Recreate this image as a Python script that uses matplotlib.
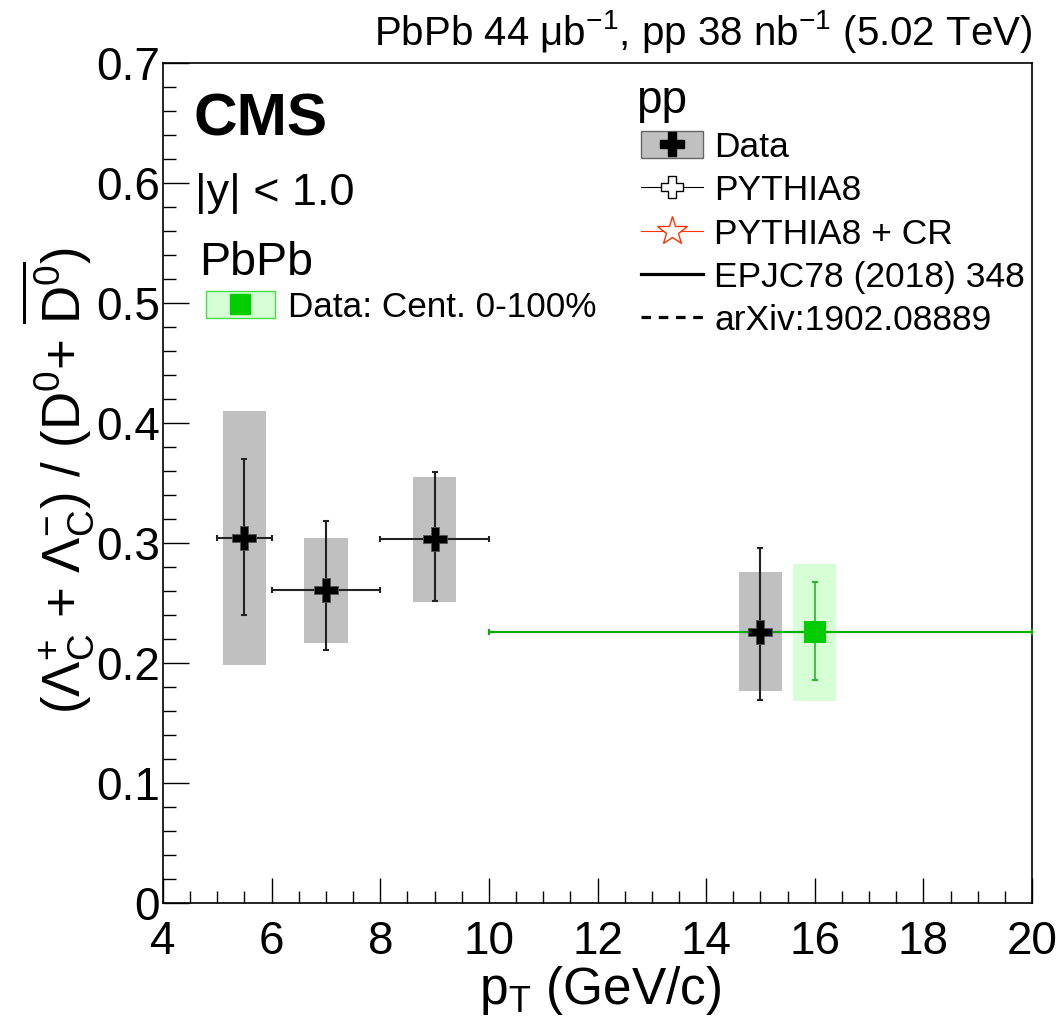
import matplotlib
matplotlib.use("Agg")
import matplotlib.pyplot as plt
from matplotlib.patches import Patch
from matplotlib.lines import Line2D
from matplotlib.ticker import MultipleLocator

plt.rcParams['font.family'] = ['Liberation Sans', 'DejaVu Sans']
plt.rcParams['mathtext.fontset'] = 'custom'
plt.rcParams['mathtext.rm'] = 'Liberation Sans'
plt.rcParams['mathtext.it'] = 'Liberation Sans:italic'
plt.rcParams['mathtext.bf'] = 'Liberation Sans:bold'

# pp data: bin centres, bin edges, ratio, stat and syst uncertainties
pp_x = [5.5, 7.0, 9.0, 15.0]
pp_xlo = [5.0, 6.0, 8.0, 10.0]
pp_xhi = [6.0, 8.0, 10.0, 20.0]
pp_y = [0.304, 0.261, 0.303, 0.226]
pp_stat_lo = [0.064, 0.050, 0.051, 0.057]
pp_stat_hi = [0.066, 0.057, 0.056, 0.070]
pp_sys_lo = [0.106, 0.044, 0.052, 0.049]
pp_sys_hi = [0.106, 0.043, 0.052, 0.050]

# PbPb data (0-100% centrality)
aa_x = [16.0]
aa_xlo = [10.0]
aa_xhi = [20.0]
aa_y = [0.2255]
aa_stat_lo = [0.0395]
aa_stat_hi = [0.042]
aa_sys_lo = [0.0575]
aa_sys_hi = [0.057]

# axis tick labels
x_ticks = [4, 6, 8, 10, 12, 14, 16, 18, 20]
x_ticklabels = ['4', '6', '8', '10', '12', '14', '16', '18', '20']
y_ticks = [0, 0.1, 0.2, 0.3, 0.4, 0.5, 0.6, 0.7]
y_ticklabels = ['0', '0.1', '0.2', '0.3', '0.4', '0.5', '0.6', '0.7']

box_width = 0.8

GREY = '#c0c0c0'
GREEN = '#00cc00'
GREEN_LINE = '#22bb22'
GREEN_FILL = '#d6ffd6'
RED = '#ff3300'

fig = plt.figure(figsize=(10.6, 10.24), dpi=100)
ax = fig.add_axes([163/1060, 1-903/1024, 869/1060, 840/1024])

# systematic boxes
ax.bar(pp_x, [l + h for l, h in zip(pp_sys_lo, pp_sys_hi)],
       bottom=[y - l for y, l in zip(pp_y, pp_sys_lo)],
       width=box_width, color=GREY, edgecolor='none', zorder=1)
ax.bar(aa_x, [l + h for l, h in zip(aa_sys_lo, aa_sys_hi)],
       bottom=[y - l for y, l in zip(aa_y, aa_sys_lo)],
       width=box_width, color=GREEN_FILL, edgecolor='none', zorder=1)

# statistical error bars and bin widths
ax.errorbar(pp_x, pp_y,
            xerr=[[x - lo for x, lo in zip(pp_x, pp_xlo)],
                  [hi - x for x, hi in zip(pp_x, pp_xhi)]],
            yerr=[pp_stat_lo, pp_stat_hi],
            fmt='none', ecolor='#222222', elinewidth=1.5, capsize=2.5,
            capthick=1.5, zorder=3)
ax.errorbar(aa_x, aa_y,
            xerr=[[x - lo for x, lo in zip(aa_x, aa_xlo)],
                  [hi - x for x, hi in zip(aa_x, aa_xhi)]],
            fmt='none', ecolor='#00b000', elinewidth=1.5, capsize=2.5,
            capthick=1.5, zorder=4)
ax.errorbar(aa_x, aa_y, yerr=[aa_stat_lo, aa_stat_hi],
            fmt='none', ecolor=GREEN_LINE, elinewidth=1.2, capsize=2.5,
            capthick=1.5, zorder=4)

# central values
ax.plot(pp_x, pp_y, ls='none', marker='P', ms=17, color='black',
        mec='#555555', mew=0.6, zorder=5)
ax.plot(aa_x, aa_y, ls='none', marker='s', ms=16.5, color=GREEN,
        mec=GREEN, mew=0, zorder=5)

ax.set_xticks(x_ticks)
ax.set_xticklabels(x_ticklabels)
ax.set_yticks(y_ticks)
ax.set_yticklabels(y_ticklabels)
ax.xaxis.set_minor_locator(MultipleLocator(0.5))
ax.yaxis.set_minor_locator(MultipleLocator(0.02))
ax.set_xlim(4, 20)
ax.set_ylim(0, 0.7)
ax.tick_params(axis='both', which='both', direction='in', top=False,
               right=False, width=1.0, labelsize=33)
ax.tick_params(axis='x', which='major', length=18, pad=12)
ax.tick_params(axis='x', which='minor', length=9)
ax.tick_params(axis='y', which='major', length=18.7, pad=2)
ax.tick_params(axis='y', which='minor', length=9.4)
for s in ax.spines.values():
    s.set_linewidth(1.2)

# axis titles
fig.text(600/1060, 1-1004/1024, r'$\mathrm{p}_{\mathrm{T}}$ (GeV/c)',
         fontsize=37, ha='center', va='baseline')
fig.text(58/1060, 1-480/1024,
         r'($\Lambda_{\mathrm{C}}^{+}$ + $\Lambda_{\mathrm{C}}^{-}$) / '
         r'(D$^{0}$+ $\overline{\mathrm{D}^{0}}$)',
         fontsize=38, rotation=90, ha='center', va='center')

# header and annotations
fig.text(1032/1060, 1-45/1024,
         r'PbPb 44 $\mathrm{\mu b}^{-1}$, pp 38 nb$^{-1}$ (5.02 TeV)',
         fontsize=29, ha='right', va='baseline')
fig.text(193/1060, 1-135/1024, 'CMS', fontsize=43.5, fontweight='bold',
         ha='left', va='baseline')
fig.text(195/1060, 1-205/1024, '|y| < 1.0', fontsize=32.3,
         ha='left', va='baseline')
fig.text(199/1060, 1-275/1024, 'PbPb', fontsize=33.5, ha='left', va='baseline')
fig.text(636/1060, 1-113/1024, 'pp', fontsize=33, ha='left', va='baseline')

# pp legend
h_data = (Patch(facecolor=GREY, edgecolor='#666666', linewidth=1.0),
          Line2D([], [], ls='none', marker='P', ms=17, color='black'))
h_py8 = Line2D([], [], color='black', lw=0.8, marker='P', ms=16,
               mfc='white', mec='black', mew=1.0)
h_cr = Line2D([], [], color=RED, lw=0.8, marker='*', ms=22,
              mfc='white', mec=RED, mew=1.0)
h_epjc = Line2D([], [], color='black', lw=2.3)
h_arx = Line2D([], [], color='black', lw=2.3, dashes=(3.0, 2.4))
leg1 = ax.legend([h_data, h_py8, h_cr, h_epjc, h_arx],
                 ['Data', 'PYTHIA8', 'PYTHIA8 + CR', 'EPJC78 (2018) 348',
                  'arXiv:1902.08889'],
                 loc='upper left', bbox_to_anchor=(641/1060, 1-131/1024),
                 bbox_transform=fig.transFigure, frameon=False, fontsize=25.5,
                 handlelength=1.74, handleheight=0.80, handletextpad=0.33,
                 labelspacing=0.29, borderpad=0, borderaxespad=0,
                 numpoints=1)
ax.add_artist(leg1)

# PbPb legend
h_aa = (Patch(facecolor=GREEN_FILL, edgecolor='#44dd44', linewidth=1.0),
        Line2D([], [], ls='none', marker='s', ms=15, color=GREEN))
leg2 = ax.legend([h_aa], ['Data: Cent. 0-100%'],
                 loc='upper left', bbox_to_anchor=(206/1060, 1-291/1024),
                 bbox_transform=fig.transFigure, frameon=False, fontsize=25.3,
                 handlelength=1.95, handleheight=0.80, handletextpad=0.38,
                 borderpad=0, borderaxespad=0)

fig.savefig('out.png', dpi=100)
